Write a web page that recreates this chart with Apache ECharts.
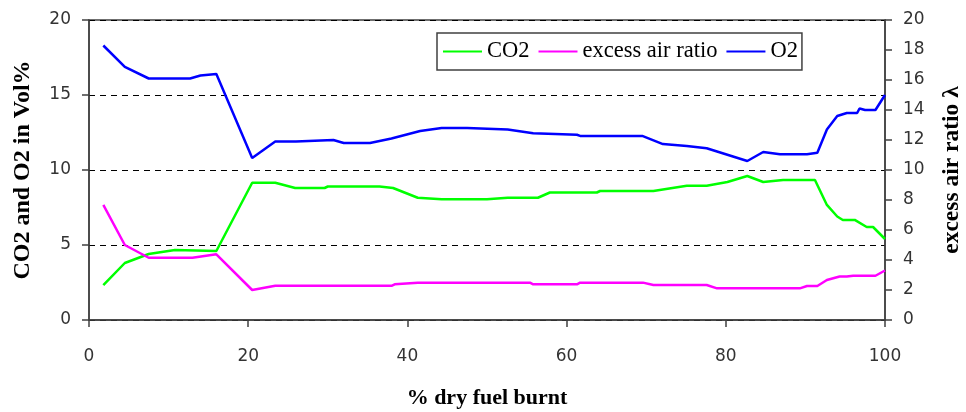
<!DOCTYPE html>
<html><head><meta charset="utf-8">
<script src="https://cdn.jsdelivr.net/npm/echarts@6/dist/echarts.min.js"></script>
<style>html,body{margin:0;padding:0;background:#fff;overflow:hidden}#c{width:966px;height:412px}</style>
</head><body><div id="c"></div>
<script>
const xTicks = [0, 20, 40, 60, 80, 100];
const leftTicks = [0, 5, 10, 15, 20];
const rightTicks = [0, 2, 4, 6, 8, 10, 12, 14, 16, 18, 20];

const co2X = [1.8, 4.5, 7.5, 10.8, 16, 20.5, 23.4, 25.9, 29.6, 30, 36.5, 38.2, 41.3, 44.3, 50, 52.6, 56.4, 57.9, 63.8, 64.2, 70.9, 75.1, 77.6, 80.2, 82.7, 84.7, 87.2, 91.2, 92.7, 94, 94.7, 96.2, 97.7, 98.5, 100];
const co2Y = [2.33, 3.8, 4.4, 4.67, 4.6, 9.15, 9.15, 8.8, 8.8, 8.9, 8.9, 8.8, 8.15, 8.05, 8.05, 8.15, 8.15, 8.5, 8.5, 8.6, 8.6, 8.95, 8.95, 9.2, 9.6, 9.2, 9.33, 9.33, 7.67, 6.9, 6.67, 6.67, 6.2, 6.2, 5.4];

const lambdaX = [1.8, 4.5, 7.5, 13, 16, 20.5, 23.4, 38, 38.4, 41.3, 55.4, 55.8, 61.3, 61.7, 69.6, 70.9, 77.6, 78.9, 89.3, 90.2, 91.5, 92.7, 94.3, 95.2, 96, 98.8, 100];
const lambdaY = [7.67, 5.0, 4.15, 4.15, 4.38, 2.0, 2.28, 2.28, 2.38, 2.49, 2.49, 2.38, 2.38, 2.49, 2.49, 2.33, 2.33, 2.11, 2.11, 2.27, 2.27, 2.67, 2.9, 2.9, 2.95, 2.95, 3.3];

const o2X = [1.8, 4.5, 7.5, 12.7, 14, 16, 20.5, 23.4, 26, 30.7, 32, 35.3, 38, 41.6, 44.3, 47.5, 52.6, 55.8, 61.3, 61.7, 69.5, 72.1, 75.1, 77.6, 82.7, 84.7, 86.8, 90.2, 91.5, 92.7, 94, 95.2, 96.5, 96.8, 97.5, 98.8, 100];
const o2Y = [18.3, 16.87, 16.1, 16.1, 16.3, 16.4, 10.8, 11.9, 11.9, 12.0, 11.8, 11.8, 12.1, 12.6, 12.8, 12.8, 12.7, 12.45, 12.35, 12.27, 12.27, 11.73, 11.6, 11.45, 10.6, 11.2, 11.05, 11.05, 11.15, 12.7, 13.6, 13.8, 13.8, 14.1, 14.0, 14.0, 15.0];

const pairs = (xs, ys) => xs.map((x, i) => [x, ys[i]]);
const tickFont = {fontFamily: 'DejaVu Sans', fontSize: 17, color: '#333'};
const nameFontH = {fontFamily: 'Liberation Serif', fontSize: 22, fontWeight: 'bold', color: '#000'};
const nameFontV = {fontFamily: 'Liberation Serif', fontSize: 24, fontWeight: 'bold', color: '#000'};
const axisLine = {show: true, lineStyle: {color: '#404040', width: 1.5}};
const tick = {show: true, length: 7, lineStyle: {color: '#404040', width: 1.5}};

const chart = echarts.init(document.getElementById('c'), null, {renderer: 'canvas'});
chart.setOption({
  animation: false,
  backgroundColor: '#fff',
  grid: {left: 89, right: 81, top: 20, bottom: 92, show: true, borderColor: '#404040', borderWidth: 1.5, backgroundColor: 'transparent', containLabel: false, outerBoundsMode: 'none'},
  legend: {
    left: 437, top: 33, padding: [7, 4, 7, 6], itemGap: 9,
    borderColor: '#404040', borderWidth: 1.5,
    icon: 'rect', itemWidth: 39, itemHeight: 2,
    textStyle: {fontFamily: 'Liberation Serif', fontSize: 22.5, color: '#000'},
    data: ['CO2', 'excess air ratio', 'O2']
  },
  xAxis: {
    type: 'value', min: xTicks[0], max: xTicks[xTicks.length - 1], interval: 20,
    name: '% dry fuel burnt', nameLocation: 'middle', nameGap: 67, nameTextStyle: nameFontH,
    axisLine: axisLine, axisTick: tick,
    axisLabel: Object.assign({margin: 28}, tickFont),
    splitLine: {show: false}
  },
  yAxis: [{
    type: 'value', min: leftTicks[0], max: leftTicks[leftTicks.length - 1], interval: 5,
    name: 'CO2 and O2 in Vol%', nameLocation: 'middle', nameGap: 54, nameTextStyle: nameFontV,
    axisLine: axisLine, axisTick: tick,
    axisLabel: Object.assign({margin: 18}, tickFont),
    splitLine: {show: true, lineStyle: {color: '#000', type: [6, 5], width: 1}}
  }, {
    type: 'value', position: 'right', min: rightTicks[0], max: rightTicks[rightTicks.length - 1], interval: 2,
    name: 'excess air ratio λ', nameLocation: 'middle', nameGap: 55, nameRotate: 90,
    nameTextStyle: Object.assign({}, nameFontV, {fontSize: 23.5}),
    axisLine: axisLine, axisTick: tick,
    axisLabel: Object.assign({margin: 18}, tickFont),
    splitLine: {show: false}
  }],
  series: [
    {name: 'CO2', type: 'line', yAxisIndex: 0, symbol: 'none', data: pairs(co2X, co2Y), lineStyle: {color: '#00FF00', width: 2.5}, itemStyle: {color: '#00FF00'}},
    {name: 'excess air ratio', type: 'line', yAxisIndex: 1, symbol: 'none', data: pairs(lambdaX, lambdaY), lineStyle: {color: '#FF00FF', width: 2.5}, itemStyle: {color: '#FF00FF'}},
    {name: 'O2', type: 'line', yAxisIndex: 0, symbol: 'none', data: pairs(o2X, o2Y), lineStyle: {color: '#0000FF', width: 2.5}, itemStyle: {color: '#0000FF'}}
  ]
});
</script></body></html>
